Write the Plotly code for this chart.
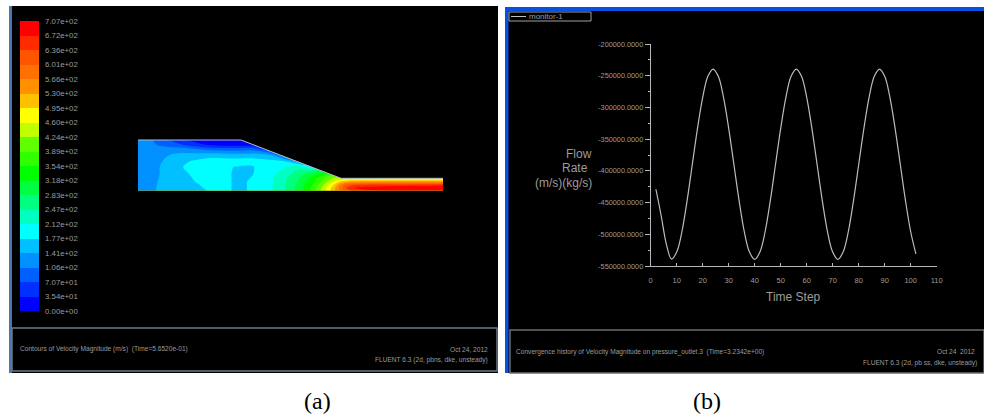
import plotly.graph_objects as go

# --- velocity contour (a) ---
x_station = [0,15,25,40,55,70,85,100,115,130,145,160,175,185,195,203,210,220,240,270,305]
y_station = [0,3,6,9,12.7,18,24,30,36,42,46,51]
velocity = [
 [115,135,155,166,170,177,183,172,180,200,240,295,370,440,510,570,620,650,670,685,690],
 [115,135,155,166,172,179,183,172,180,200,240,295,365,435,510,590,650,680,695,700,700],
 [115,133,155,168,174,180,183,172,180,200,240,290,355,420,490,570,620,640,650,655,660],
 [115,132,153,168,176,181,183,172,180,198,238,285,345,400,460,510,540,550,555,560,560],
 [115,130,150,170,177,181,183,172,178,198,235,280,335,385,425,435,430,430,430,430,430],
 [115,128,148,172,179,182,183,172,176,195,225,260,300,320,370,400,430,430,430,430,430],
 [115,128,148,174,182,183,181,175,175,190,205,235,180,280,360,400,430,430,430,430,430],
 [115,126,142,165,179,192,192,192,190,186,178,120,170,250,340,400,430,430,430,430,430],
 [115,122,135,150,155,160,160,155,160,150,80,100,170,250,320,400,430,430,430,430,430],
 [115,115,118,120,110,95,85,85,90,45,60,100,170,250,320,400,430,430,430,430,430],
 [115,110,100,80,55,35,25,25,25,40,60,100,170,250,320,400,430,430,430,430,430],
 [115,105,85,50,25,12,8,5,20,40,60,100,170,250,320,400,430,430,430,430,430],
]
wall_x = [0,103,203,305]
wall_y = [51,51,12.7,12.7]
mask_x = [103,203,310,310,103]
mask_y = [51,12.7,12.7,56,56]

band_colors = ["#0000ff","#0030ff","#0060ff","#0090ff","#00c0ff","#00ffff","#00ffc0","#00ff80",
               "#00ff40","#00ff00","#30ff00","#60ff00","#c0ff00","#ffff00","#ffc000","#ff9000",
               "#ff7000","#ff5500","#ff2a00","#ff0000"]
legend_values = [707,672,636,601,566,530,495,460,424,389,354,318,283,247,212,177,141,106,70.7,35.4,0]
legend_labels = ["7.07e+02","6.72e+02","6.36e+02","6.01e+02","5.66e+02","5.30e+02","4.95e+02","4.60e+02",
                 "4.24e+02","3.89e+02","3.54e+02","3.18e+02","2.83e+02","2.47e+02","2.12e+02","1.77e+02",
                 "1.41e+02","1.06e+02","7.07e+01","3.54e+01","0.00e+00"]

# --- monitor (b) ---
time_step = list(range(2,104,2))
flow_rate = [-429000,-470000,-515000,-539000,-528000,-496000,-447000,-390000,-333000,-284000,-251000,-239500,
             -251000,-284000,-333000,-390000,-447000,-496000,-528000,-539500,-528000,-496000,-447000,-390000,
             -333000,-284000,-251000,-239500,-251000,-284000,-333000,-390000,-447000,-496000,-528000,-539500,
             -528000,-496000,-447000,-390000,-333000,-284000,-251000,-239500,-251000,-284000,-333000,-390000,
             -447000,-496000,-531000]
x_ticks = list(range(0,120,10))
y_ticks = [-200000,-250000,-300000,-350000,-400000,-450000,-500000,-550000]
y_tick_labels = ["-200000.0000","-250000.0000","-300000.0000","-350000.0000","-400000.0000","-450000.0000","-500000.0000","-550000.0000"]

W, H = 984, 419
def fx(p): return p / W
def fy(p): return 1 - p / H

GRAY = "#9c9c9c"
LINE = "#b8b8b8"
SANS = "Liberation Sans, Arial, sans-serif"
SERIF = "Liberation Serif, Times New Roman, serif"

n = len(band_colors)
scale = []
for i, c in enumerate(band_colors):
    scale += [[i / n, c], [(i + 1) / n, c]]

fig = go.Figure()
fig.add_trace(go.Contour(
    x=x_station, y=y_station, z=velocity, xaxis="x", yaxis="y",
    zmin=0, zmax=707, colorscale=scale,
    autocontour=False, contours=dict(start=0, end=707, size=35.35, coloring="fill", showlines=False),
    line=dict(width=0), hoverinfo="skip",
    colorbar=dict(
        x=fx(20), xanchor="left", xpad=0, ypad=0, y=fy(311), yanchor="bottom",
        len=290/H, lenmode="fraction", thickness=19, thicknessmode="pixels",
        outlinewidth=0, tickmode="array", tickvals=legend_values, ticktext=legend_labels,
        ticks="outside", ticklen=5, tickcolor="rgba(0,0,0,0)",
        tickfont=dict(family=SANS, size=7.8, color=GRAY), bgcolor="rgba(0,0,0,0)"),
))
fig.add_trace(go.Scatter(x=mask_x, y=mask_y, xaxis="x", yaxis="y", mode="none", fill="toself",
                         fillcolor="#000000", hoverinfo="skip", showlegend=False))
fig.add_trace(go.Scatter(x=wall_x, y=wall_y, xaxis="x", yaxis="y", mode="lines",
                         line=dict(color="#b4bccc", width=1), hoverinfo="skip", showlegend=False))
fig.add_trace(go.Scatter(x=[0,305], y=[0,0], xaxis="x", yaxis="y", mode="lines",
                         line=dict(color="#8a9a20", width=1), hoverinfo="skip", showlegend=False))
fig.add_trace(go.Scatter(x=time_step, y=flow_rate, xaxis="x2", yaxis="y2", mode="lines",
                         line=dict(color="#bcbcbc", width=1.2, shape="spline"), hoverinfo="skip", showlegend=False))

axis_off = dict(visible=False, showgrid=False, zeroline=False)
fig.update_layout(
    width=W, height=H, margin=dict(l=0, r=0, t=0, b=0, autoexpand=False), paper_bgcolor="#ffffff", plot_bgcolor="rgba(0,0,0,0)",
    showlegend=False,
    xaxis=dict(domain=[fx(138), fx(448)], range=[0,310], anchor="y", **axis_off),
    yaxis=dict(domain=[fy(191), fy(135)], range=[0,56], anchor="x", **axis_off),
    xaxis2=dict(domain=[fx(650.7), fx(936.7)], range=[0,110], anchor="y2", tickmode="array", tickvals=x_ticks,
                ticks="inside", ticklen=3, tickcolor=LINE, tickwidth=1, showgrid=False, zeroline=False,
                showline=True, linecolor=LINE, linewidth=1, ticklabelstandoff=7,
                tickfont=dict(family=SANS, size=7.5, color=GRAY)),
    yaxis2=dict(domain=[fy(266), fy(44)], range=[-550000,-200000], anchor="x2", tickmode="array", tickvals=y_ticks,
                ticktext=y_tick_labels, ticks="outside", ticklen=5, tickcolor=LINE, tickwidth=1,
                minor=dict(ticks="outside", ticklen=2, dtick=25000, tickcolor=LINE, tickwidth=1),
                showgrid=False, zeroline=False, showline=True, linecolor=LINE, linewidth=1,
                tickfont=dict(family=SANS, size=7.3, color=GRAY)),
)

def rect(x0, y0, x1, y1, fill=None, line=None, w=1):
    return dict(type="rect", xref="paper", yref="paper", x0=fx(x0), x1=fx(x1), y0=fy(y0), y1=fy(y1),
                fillcolor=fill or "rgba(0,0,0,0)", line=dict(color=line or "rgba(0,0,0,0)", width=w if line else 0),
                layer="below")

fig.update_layout(shapes=[
    rect(9, 6, 498, 373, fill="#000000"),
    rect(9, 6, 12, 373, fill="#4a76a8"),
    rect(12, 328, 497, 371, line="#6e7a86", w=1.5),
    rect(505, 7, 984, 373, fill="#000000"),
    rect(505, 7, 984, 11, fill="#0a50e0"),
    rect(505, 7, 508.5, 373, fill="#0a50e0"),
    rect(510, 330, 984, 373, line="#6e6e6e", w=1.5),
    rect(509, 12, 591, 21, line="#a0a0a0", w=1),
    dict(type="line", xref="paper", yref="paper", x0=fx(511), x1=fx(526), y0=fy(16.5), y1=fy(16.5),
         line=dict(color="#c0c0c0", width=1), layer="below"),
])

def note(text, x, y, size, anchor="left", color=GRAY, family=SANS):
    fig.add_annotation(text=text, xref="paper", yref="paper", x=fx(x), y=fy(y), xanchor=anchor, yanchor="middle",
                       showarrow=False, align=anchor, font=dict(family=family, size=size, color=color))

note("monitor-1", 527, 16.5, 8)
note("Flow", 594, 153.5, 12, "right")
note("Rate", 590, 168, 12, "right")
note("(m/s)(kg/s)", 594, 182.5, 12, "right")
note("Time Step", 793, 297, 12, "center")
note("Contours of Velocity Magnitude (m/s)  (Time=5.6520e-01)", 18, 349, 6.6)
note("Oct 24, 2012", 490, 349, 6.6, "right")
note("FLUENT 6.3 (2d, pbns, dke, unsteady)", 490, 360, 6.6, "right")
note("Convergence history of Velocity Magnitude on pressure_outlet.3  (Time=3.2342e+00)", 514, 351.5, 6.6)
note("Oct 24  2012", 977, 351.5, 6.6, "right")
note("FLUENT 6.3 (2d, pb ss, dke, unsteady)", 979, 362.5, 6.6, "right")
note("(a)", 317, 401, 24, "center", "#000000", SERIF)
note("(b)", 707, 401, 24, "center", "#000000", SERIF)

fig.write_html("out.html", config={"displayModeBar": False},
               post_script="document.body.style.margin='0';document.documentElement.style.overflow='hidden';")
